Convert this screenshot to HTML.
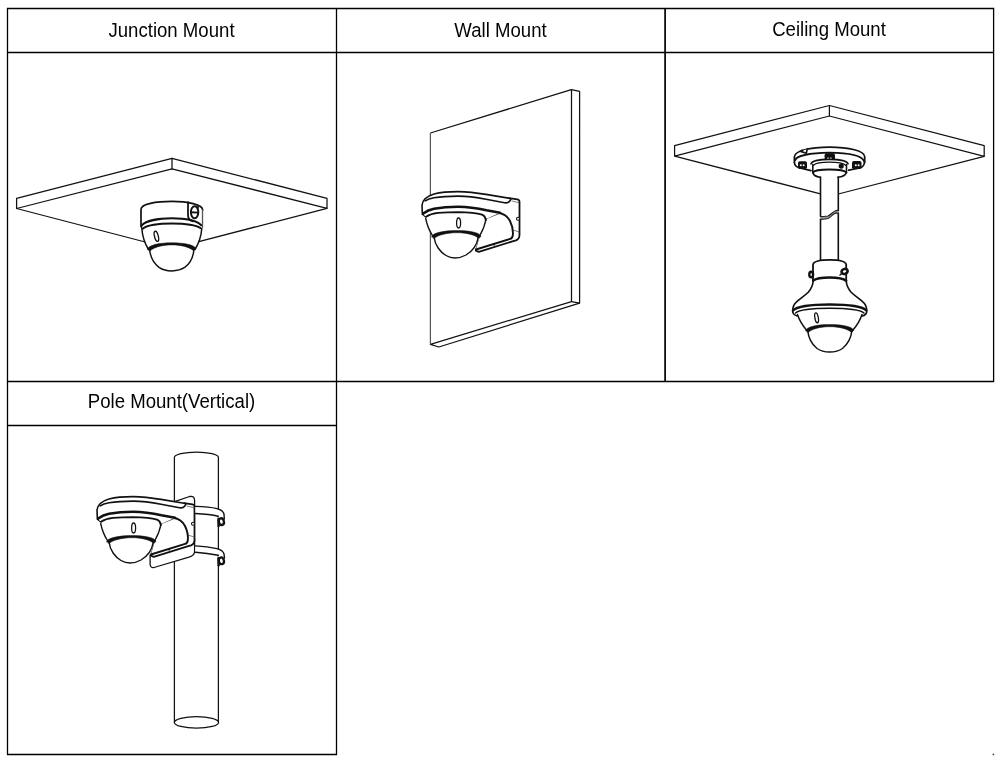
<!DOCTYPE html>
<html><head><meta charset="utf-8"><style>
html,body{margin:0;padding:0;background:#fff;}
body{width:1000px;height:763px;overflow:hidden;position:relative;}
svg{position:absolute;left:0;top:0;}
text{font-family:"Liberation Sans",sans-serif;font-size:18.6px;fill:#000;}
</style></head><body>
<svg width="1000" height="763" viewBox="0 0 1000 763">
<defs>
<g id="cam" stroke="#111" stroke-linejoin="round" stroke-linecap="round">
<!-- plate -->
<path d="M509 198.2L517.5 199.4Q519.5 199.8 519.5 202V234.8Q519.5 239 516 240.3L512.5 241.4L478.8 251.9L475.9 250.7L486 220Z" fill="#fff" stroke-width="1.8"/>
<path d="M512 201L518.5 202.6M513.6 230.3L518.9 231.8" fill="none" stroke-width="0.7" stroke="#444"/>
<circle cx="518" cy="218.8" r="1.5" fill="#fff" stroke-width="1.1"/>
<!-- arm -->
<path d="M486 194.2L509.5 198.3L510.5 202L498.3 212.7C503 213.5 507.5 216 510 221C512.5 226 513.3 231 512.8 235.5C512.5 237.5 511.5 238.6 510.1 238.9L475.9 249.5L480 236L486 219Z" fill="#fff" stroke="none"/>
<path d="M498.3 212.7C503 213.5 507.5 216 510 221C512.5 226 513.3 231 512.8 235.5C512.5 237.5 511.5 238.6 510.1 238.9L475.9 249.5" fill="none" stroke-width="1.9"/>
<path d="M486.5 218.3L498.3 213.5" fill="none" stroke="#333" stroke-width="1.4" stroke-dasharray="1.3 0.7"/>
<circle cx="494.2" cy="244.7" r="0.9" fill="#111" stroke="none"/>
<!-- housing -->
<path d="M422 205.2C422.5 199 428 195.5 434 193.6C441 191.8 450 191.2 458 191.2C466 191.3 476 192.4 486 194.2L511 198.5L510 201.5C509 202.6 507 203 504.5 202.6L500.5 212.5L486 219C485 225 482.5 231 479.6 236L432.7 236C429.5 231 427 225 425.7 218.5L422.4 214.5Z" fill="#fff" stroke="none"/>
<path d="M422.4 214.5L422 205.2C422.5 199 428 195.8 434 194C441 192.2 450 191.6 458 191.6C466 191.7 476 192.7 486 194.4L510.5 198.5" fill="none" stroke-width="1.6"/>
<path d="M425.2 200.8C428 199 431 198.3 434 197.8C441 196.6 450 196.1 458 196.1C466 196.2 476 197.3 486 199.2L504.5 202.8C507 203.2 508.8 202.4 509.8 201L511 198.8" fill="none" stroke-width="1.6"/>
<path d="M423.2 213.6C427 210.8 431 209.4 434 208.8C441 207.5 450 206.8 458 206.8C466 206.9 476 208 486.5 210.3L500 212.8" fill="none" stroke-width="2.5"/>
<path d="M426 216.7C430 214.2 434 213.4 438 212.9C445 212.3 452 212.1 458 212.1C466 212.3 476 212.9 482 214.6C484.5 215.6 485.5 217.5 485.8 220.2" fill="none" stroke-width="1.9"/>
<path d="M422.6 213.5C423.5 215.5 425 217 426.3 217" fill="none" stroke-width="1.1"/>
<path d="M425.7 218.5C427 225 429.5 231 432.7 236M486 219C485 225 482.5 231 479.6 236" fill="none" stroke-width="1.35"/>
<!-- dome -->
<path d="M434.1 237.4C435 245 440 252 446 255.5C449 257.3 452 258 455.1 258C458.5 258 462 257.2 466 255C472 251.5 477 245 478.2 237.4" fill="#fff" stroke-width="1.4"/>
<path d="M431.6 236.6C433.3 232.4 444.8 230.6 457.0 230.6C469.2 230.6 479.7 232.4 481.0 236.4L478.4 238.4C476.0 235.2 467.0 232.7 457.0 232.7C447.0 232.7 436.8 235.2 434.4 238.5Z" fill="#111" stroke="#111" stroke-width="0.5"/>
<ellipse cx="458.6" cy="223" rx="2" ry="5" fill="none" stroke-width="1.3"/>
</g>
</defs>
<g stroke="#000" stroke-width="1.3" fill="none" id="grid">
<path d="M7.5 8.5H993.6V381.5H7.5Z"/>
<path d="M7.5 52.5H993.5M336.5 8.5V381.5"/>
<path d="M665.1 8.5V381.5" stroke-width="1.7"/>
<path d="M7.5 381.5V754.5H336.5V381.5M7.5 425.5H336.5"/>
</g>

<!-- JUNCTION -->
<g id="junction" fill="none" stroke="#111" stroke-width="1.25" stroke-linejoin="round" stroke-linecap="round">
<path d="M16.6 198.3L172 158.4L327 198.3V208.3L172 168.9L16.6 208.5Z"/>
<path d="M172 158.4V168.9"/>
<path d="M16.6 208.5L150 243.25M327 208.3L194 242.9"/>
</g>
<g id="jcam" stroke="#111" stroke-linejoin="round" stroke-linecap="round">
<path d="M141 226.5V209.3C141 204 156 201.4 171.8 201.4C187.5 201.4 202.7 204.5 202.7 210V227.3L201.8 228C201 236 198 243 195 249L148.5 249.8C145.5 243 142.5 236 141.8 228Z" fill="#fff" stroke="none"/>
<path d="M141 226.5V209.3C141 204 156 201.4 171.8 201.4C187.5 201.4 202.7 204.5 202.7 210" fill="none" stroke-width="1.7"/>
<path d="M202.5 210V227.3" fill="none" stroke-width="1.3" stroke="#555"/>
<path d="M141.8 225.2C146 221 158 218.3 171.8 218.3C185.5 218.3 197 221 201.2 225.2" fill="none" stroke-width="2.05"/>
<path d="M143.3 228.3C148 225 159 223.5 171.8 223.5C184.5 223.5 196 225 200.8 228.3" fill="none" stroke-width="1.85"/>
<path d="M141.6 226C141.3 228 142 229 143 229" fill="none" stroke-width="1.35"/>
<path d="M141.8 228.5C142.3 235 144.5 243 148.5 249.5M201.8 228.5C201.3 235 199 243 195 249.5" fill="none" stroke-width="1.5"/>
<path d="M188 202.2V215C188 218.5 190 220.5 193 221.3" fill="none" stroke-width="1.75"/>
<path d="M197.6 205.8L198.5 208" fill="none" stroke-width="1.2"/>
<ellipse cx="194.6" cy="212.3" rx="3.7" ry="6" fill="none" stroke-width="1.9"/>
<path d="M191 212.2L198.2 212.6" stroke-width="1.9"/>
<path d="M149.6 249.8C150.5 257 154 263.5 159 267.3C163 270 167 270.9 171.8 270.9C176.5 270.9 181 270 185 267.2C190 263.5 193.2 257 193.9 249.8" fill="#fff" stroke-width="1.45"/>
<path d="M147.4 249.0C149.1 244.8 159.6 242.8 171.8 242.8C184.0 242.8 194.7 244.8 196.0 248.8L193.4 250.8C191.0 247.6 181.8 244.9 171.8 244.9C161.8 244.9 152.6 247.6 150.2 250.9Z" fill="#111" stroke="#111" stroke-width="0.5"/>
<ellipse cx="156.4" cy="236.3" rx="1.9" ry="5.2" transform="rotate(-14 156.4 236.3)" fill="none" stroke-width="1.35"/>
</g>
<!-- WALL -->
<g id="wall" fill="none" stroke="#111" stroke-width="1.25" stroke-linejoin="round">
<path d="M430.4 133L571.3 89.6L579.6 91.4V303.1L438.8 347L430.4 344.3L571.5 301.6V89.6"/>
<path d="M571.5 301.6L579.6 303.1"/>
<path d="M430.4 133V344.3" stroke="#555" stroke-width="1.2"/>
</g>
<use href="#cam"/>
<!-- CEILING -->
<g id="ceiling" fill="none" stroke="#111" stroke-width="1.25" stroke-linejoin="round">
<path d="M674.6 145.6L829.4 105.5L984.2 145.6V156.4L829.4 116L674.6 156.1Z"/>
<path d="M829.4 105.5V116"/>
<path d="M674.6 156.1L820.5 193.9M984.2 156.4L838.3 194"/>
</g>
<g id="ccam" stroke="#111" stroke-linejoin="round" stroke-linecap="round">
<!-- pole -->
<path d="M820.5 174V215.8M820.5 219.6V261M838.3 174V210.6M838.3 213.4V261" fill="none" stroke-width="1.6"/>
<path d="M820.3 216.6C823 216.4 826 216.6 828 216C830.5 215 833 211.5 835.6 210.7L838.6 210.4L838.6 213.1L835.6 213.1C833 213.8 830.5 217.5 828 218.5C826 219.2 823 219.3 820.3 219.4Z" fill="#999" stroke="none"/>
<path d="M820.3 216.6C823 216.4 826 216.6 828 216C830.5 215 833 211.5 835.6 210.7L838.6 210.4M820.3 219.4C823 219.3 826 219.2 828 218.5C830.5 217.5 833 213.8 835.6 213.1L838.6 213.1" fill="none" stroke-width="1.2" stroke="#222"/>
<!-- flange -->
<path d="M794.2 156.7C794.5 151 810 147.1 829.4 147.1C849 147.1 864.7 151 864.7 156.7V162.5C864.5 165.5 862.5 167.5 860 168.3L848 170.5L811 170.5L799 167.8C796.5 167 794.5 165 794.4 162.5Z" fill="#fff" stroke="none"/>
<path d="M794.4 162.5V156.7C794.5 151 810 147.1 829.4 147.1C849 147.1 864.7 151 864.7 156.7V162.5" fill="none" stroke-width="1.75"/>
<path d="M795.2 160C797 156 810 153 829.4 152.7C849 153 862 156 864.2 161.3" fill="none" stroke-width="1.85"/>
<path d="M794.4 162.5C794.6 165 796.5 167 799 167.8L811 170.6M864.4 162.5C864.2 165 862.5 167 860 168L847.5 170.4" fill="none" stroke-width="1.65"/>
<path d="M800.8 151.5L806.3 153.2L807.3 148.9" fill="#fff" stroke-width="1.65"/><circle cx="802" cy="150.9" r="1.3" fill="#111" stroke="none"/>
<!-- screws -->
<rect x="798" y="161.3" width="9" height="7.8" rx="1.8" fill="#111" stroke="none"/>
<rect x="852" y="161" width="9.5" height="8" rx="1.8" fill="#111" stroke="none"/>
<rect x="824.6" y="153.3" width="10.4" height="9.4" rx="2" fill="#111" stroke="none"/>
<circle cx="800.8" cy="165.3" r="1" fill="#fff" stroke="none"/><circle cx="803.6" cy="165.3" r="1" fill="#fff" stroke="none"/>
<circle cx="855.8" cy="165.3" r="1" fill="#fff" stroke="none"/><circle cx="858.6" cy="165.3" r="1" fill="#fff" stroke="none"/>
<circle cx="828" cy="158.5" r="1" fill="#fff" stroke="none"/><circle cx="830.8" cy="158.5" r="1" fill="#fff" stroke="none"/>
<!-- collar -->
<path d="M811 163.5C812 161 820 159.3 829.4 159.3C839 159.3 847 161 848 163.5V171.5C847 175 842 176.5 838 176.5L820.1 176.5C816 176.5 813 175 812.8 172Z" fill="#fff" stroke="none"/>
<path d="M811 163.8C812 161 820 159.3 829.4 159.3C839 159.3 847 161 848 163.8" fill="none" stroke-width="1.75"/>
<path d="M813.5 165.2C815.5 163.3 822 162.2 829.4 162.2C837 162.2 843.5 163.3 845.6 165.2" fill="none" stroke-width="1.3"/>
<path d="M812.8 164.5V172.5M846.5 164.5V171.5" fill="none" stroke-width="1.55"/>
<path d="M812.8 172.5C814 170.5 821 169.5 829.4 169.5C838 169.5 845 170.5 846.5 172.5" fill="none" stroke-width="1.95"/>
<path d="M813 172.8C813.5 175 816 176.8 820.1 177.2M846.3 172.8C845.5 175 842.5 176.8 838 177.2" fill="none" stroke-width="1.65"/>
<circle cx="841.2" cy="166.1" r="2.6" fill="#111" stroke="none"/>
<!-- hanger -->
<path d="M813 264.6C813.5 261.5 820 259.8 829.7 259.8C839 259.8 845.8 261.5 846.2 264.6V280.5C846.5 286 848 289 850.5 292C855 296.5 861 300 864 303.5C866 306 866.5 309 866.2 311.5L860 315.5L852.4 330.7L807 330.7L798.8 315.5L792.6 311.5C792.4 309 793 306 795 303.5C798 300 804 296.5 808.5 292C811 289 812.8 286 813.2 280.5Z" fill="#fff" stroke="none"/>
<path d="M813 280.5V264.6C813.5 261.5 820 259.8 829.7 259.8C839 259.8 845.8 261.5 846.2 264.6V280.5" fill="none" stroke-width="1.8"/>
<path d="M813.2 280.6C816 278.4 822 277.5 829.7 277.5C837.5 277.5 843.5 278.4 846.2 280.9" fill="none" stroke-width="2.5"/>
<path d="M813.2 281C812.8 286 811 289 808.5 292C804 296.5 798 300 795 303.5C793 306 792.4 309 792.8 312.5C793.5 314.5 795 315.5 797 316M846.2 281C846.6 286 848.4 289 850.9 292C855.4 296.5 861.4 300 864.4 303.5C866.4 306 867 309 866.6 312.5C866 314.5 864.5 315.5 862.5 316" fill="none" stroke-width="1.65"/>
<path d="M793 310.5C797 306.5 812 304.5 829.7 304.5C847.5 304.5 862.5 306.5 866.4 310.5" fill="none" stroke-width="2.35"/>
<path d="M795.5 313C799 310 812 308.3 829.7 308.3C847.5 308.3 860.5 310 864 313" fill="none" stroke-width="1.45"/>
<path d="M797.5 314.5C799.5 321 803 326 807 330.7M862 314.5C860 321 856.5 326 852.4 330.7" fill="none" stroke-width="1.45"/>
<path d="M807.7 330.7C808.5 338 812 344.5 817 348.5C820.5 351 825 352 829.7 352C834.5 352 839 351 842.5 348.5C847.5 344.5 851 338 852 330.7" fill="#fff" stroke-width="1.45"/>
<path d="M805.7 330.6C807.4 326.4 817.5 324.6 829.7 324.6C841.9 324.6 852.4 326.4 853.7 330.4L851.1 332.4C848.7 329.2 839.7 326.7 829.7 326.7C819.7 326.7 810.9 329.2 808.5 332.5Z" fill="#111" stroke="#111" stroke-width="0.5"/>
<ellipse cx="816.6" cy="317.8" rx="1.7" ry="5" transform="rotate(-10 816.6 317.8)" fill="none" stroke-width="1.35"/>
<!-- hanger screws -->
<ellipse cx="811.2" cy="274.5" rx="1.9" ry="2.8" fill="#fff" stroke-width="2.4"/>
<ellipse cx="844.6" cy="271.4" rx="3.1" ry="2.4" transform="rotate(-20 844.6 271.4)" fill="#fff" stroke-width="2.6"/>
<path d="M841 274.2L840 275" stroke-width="1.5"/>
</g>
<!-- POLE -->
<g id="pole" fill="none" stroke="#111" stroke-width="1.25">
<path d="M174.4 722.4V457.2A22 5.2 0 0 1 218.4 457.2V722.4"/>
<ellipse cx="196.5" cy="722.4" rx="22.1" ry="5.7"/>
</g>
<g class="t" opacity="0.995">
<text transform="translate(171.5 36.5) scale(1 1.06)" text-anchor="middle">Junction Mount</text>
<text transform="translate(500.5 37) scale(1 1.06)" text-anchor="middle">Wall Mount</text>
<text transform="translate(829 35.6) scale(1 1.06)" text-anchor="middle">Ceiling Mount</text>
<text transform="translate(171.5 408) scale(1 1.06)" text-anchor="middle">Pole Mount(Vertical)</text>
</g>
<path d="M160 549L187.5 540L194.6 539V551.5Q194.4 555.6 189 557.2L154 567.5Q150.2 568 150.1 564V555Z" fill="#fff" stroke="#111" stroke-width="1.3" stroke-linejoin="round"/>
<path d="M174.5 501.6L189.6 496.5Q194.6 495.3 194.6 500.8V512L180 512Z" fill="#fff" stroke="#111" stroke-width="1.3" stroke-linejoin="round"/>
<g transform="translate(-325,305)">
<use href="#cam"/>
</g>
<g id="straps" stroke="#111" stroke-linejoin="round" stroke-linecap="round">
<path d="M195.4 506.4C203 506.6 212 507.4 217 508.6C221 509.7 223.3 511.5 224 514L224.3 519L224.8 522.5C224 525.5 220 526.5 218.3 526.5L218.3 516.2C212 514.8 204 514 195.4 513.5Z" fill="#fff" stroke="none"/>
<path d="M195.4 506.4C203 506.6 212 507.4 217 508.6C221 509.7 223.3 511.5 224 514L224.3 519" fill="none" stroke-width="1.4"/>
<path d="M195.4 513.5C204 514 212 514.8 218.3 516.2" fill="none" stroke-width="1.4"/>
<ellipse cx="221.4" cy="521.6" rx="2.5" ry="3.4" transform="rotate(-15 221.4 521.6)" fill="#fff" stroke-width="2.3"/>
<path d="M218.6 519L218.6 526" stroke-width="2.4"/>
<path d="M195.4 545.9C203 546.3 212 547.5 217 548.6C221 549.7 223.3 551.3 224 554L224.5 558L224.8 562C224 565 220 566 218.3 566L218.3 555.3C212 554 204 552.8 195.4 552.2Z" fill="#fff" stroke="none"/>
<path d="M195.4 545.9C203 546.3 212 547.5 217 548.6C221 549.7 223.3 551.3 224 554L224.5 558" fill="none" stroke-width="1.4"/>
<path d="M195.4 552.2C204 552.8 212 554 218.3 555.3" fill="none" stroke-width="1.4"/>
<ellipse cx="221.4" cy="560.8" rx="2.5" ry="3.4" transform="rotate(-15 221.4 560.8)" fill="#fff" stroke-width="2.3"/>
<path d="M218.6 558.3L218.6 565.3" stroke-width="2.4"/>
</g>
<circle cx="993.4" cy="754.4" r="0.9" fill="#444"/>
</svg>
</body></html>
